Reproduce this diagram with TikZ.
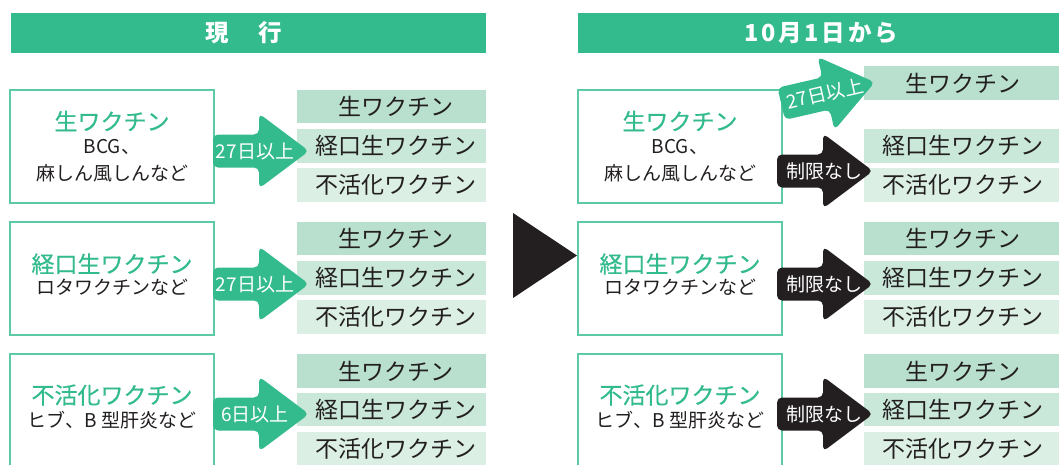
\documentclass[tikz,border=0pt]{standalone}
\usepackage{fontspec}
\setmainfont{Noto Sans CJK JP}
\newfontfamily\hdfont[LetterSpace=12]{Noto Sans CJK JP}
\newfontfamily\ttlfont[FakeBold=0.5]{Noto Sans CJK JP}
\definecolor{hgreen}{HTML}{33BB8E}
\definecolor{bordc}{HTML}{5DCAA5}
\definecolor{rowa}{HTML}{B9E0CE}
\definecolor{rowb}{HTML}{C9E8D9}
\definecolor{rowc}{HTML}{DBEFE4}
\definecolor{dark}{HTML}{231F20}
\tikzset{
  hdrtext/.style={text=white, font=\hdfont\bfseries\fontsize{23.5}{27}\selectfont, inner sep=0pt},
  vbox/.style={draw=bordc, line width=1.5pt},
  ttl/.style={text=hgreen, font=\ttlfont\fontsize{23}{27}\selectfont, inner sep=0pt},
  subt/.style={text=dark, font=\fontsize{19}{23}\selectfont, inner sep=0pt},
  item/.style={text=dark, font=\fontsize{23}{27}\selectfont, inner sep=0pt},
  albl/.style={text=white, font=\fontsize{19}{23}\selectfont, inner sep=0pt},
}
\newcommand\vacarrow[7]{%
  \begin{scope}[shift={(#2,#3)},rotate=#4]
    \fill[#5, rounded corners=5pt] (-48,-16.5) -- (-2,-16.5) -- (-2,-37.5) -- (48,0) -- (-2,37.5) -- (-2,16.5) -- (-48,16.5) -- cycle;
    \node[albl, rotate=#4] (#1) at (#7,0) {#6};
  \end{scope}}
\begin{document}
\begin{tikzpicture}[x=1pt,y=-1pt]
\useasboundingbox (0,0) rectangle (1059,464);
\clip (0,0) rectangle (1059,464);
% headers
\fill[hgreen] (11,13) rectangle (486,53);
\node[hdrtext] (hl) at (244,33) {現　行};
\fill[hgreen] (578,13) rectangle (1059,53);
\node[hdrtext] (hr) at (821,33) {10月1日から};
% left boxes
\draw[vbox] (10,90) rectangle (214,203);
\node[ttl] (lt1) at (112,121) {生ワクチン};
\node[subt] (ls1a) at (112,147) {BCG、};
\node[subt] (ls1b) at (112,173) {麻しん風しんなど};
\draw[vbox] (10,222) rectangle (214,335);
\node[ttl] (lt2) at (112,264) {経口生ワクチン};
\node[subt] (ls2) at (112,287) {ロタワクチンなど};
\draw[vbox] (10,354) rectangle (214,490);
\node[ttl] (lt3) at (112,395) {不活化ワクチン};
\node[subt] (ls3) at (112,420) {ヒブ、B 型肝炎など};
% right boxes
\draw[vbox] (578,90) rectangle (782,203);
\node[ttl] (rt1) at (680,121) {生ワクチン};
\node[subt] (rs1a) at (680,147) {BCG、};
\node[subt] (rs1b) at (680,173) {麻しん風しんなど};
\draw[vbox] (578,222) rectangle (782,335);
\node[ttl] (rt2) at (680,264) {経口生ワクチン};
\node[subt] (rs2) at (680,287) {ロタワクチンなど};
\draw[vbox] (578,354) rectangle (782,490);
\node[ttl] (rt3) at (680,395) {不活化ワクチン};
\node[subt] (rs3) at (680,420) {ヒブ、B 型肝炎など};
% left rows
\fill[rowa] (297,90) rectangle (486,123);
\node[item] (l1a) at (396,106.5) {生ワクチン};
\fill[rowb] (297,129) rectangle (486,163);
\node[item] (l1b) at (396,146) {経口生ワクチン};
\fill[rowc] (297,168) rectangle (486,202);
\node[item] (l1c) at (396,185) {不活化ワクチン};
\fill[rowa] (297,222) rectangle (486,255);
\node[item] (l2a) at (396,238.5) {生ワクチン};
\fill[rowb] (297,261) rectangle (486,295);
\node[item] (l2b) at (396,278) {経口生ワクチン};
\fill[rowc] (297,300) rectangle (486,334);
\node[item] (l2c) at (396,317) {不活化ワクチン};
\fill[rowa] (297,354) rectangle (486,388);
\node[item] (l3a) at (396,371) {生ワクチン};
\fill[rowb] (297,393) rectangle (486,426);
\node[item] (l3b) at (396,409.5) {経口生ワクチン};
\fill[rowc] (297,432) rectangle (486,466);
\node[item] (l3c) at (396,449) {不活化ワクチン};
% right rows
\fill[rowa] (864,66) rectangle (1059,100);
\node[item] (r1a) at (963,83) {生ワクチン};
\fill[rowb] (864,129) rectangle (1059,163);
\node[item] (r1b) at (963,146) {経口生ワクチン};
\fill[rowc] (864,168) rectangle (1059,202);
\node[item] (r1c) at (963,185) {不活化ワクチン};
\fill[rowa] (864,222) rectangle (1059,255);
\node[item] (r2a) at (963,238.5) {生ワクチン};
\fill[rowb] (864,261) rectangle (1059,295);
\node[item] (r2b) at (963,278) {経口生ワクチン};
\fill[rowc] (864,300) rectangle (1059,334);
\node[item] (r2c) at (963,317) {不活化ワクチン};
\fill[rowa] (864,354) rectangle (1059,388);
\node[item] (r3a) at (963,371) {生ワクチン};
\fill[rowb] (864,393) rectangle (1059,426);
\node[item] (r3b) at (963,409.5) {経口生ワクチン};
\fill[rowc] (864,432) rectangle (1059,466);
\node[item] (r3c) at (963,449) {不活化ワクチン};
% arrows
\vacarrow{la1}{261}{151}{0}{hgreen}{27日以上}{-6}
\vacarrow{la2}{261}{284}{0}{hgreen}{27日以上}{-6}
\vacarrow{la3}{261}{414}{0}{hgreen}{6日以上}{-6}
\vacarrow{ra0}{828}{93}{13}{hgreen}{27日以上}{-3}
\vacarrow{ra1}{825}{171}{0}{dark}{制限なし}{-1}
\vacarrow{ra2}{825}{284}{0}{dark}{制限なし}{-1}
\vacarrow{ra3}{825}{414}{0}{dark}{制限なし}{-1}
% big triangle
\fill[dark] (513,213) -- (577,255.5) -- (513,298) -- cycle;
\end{tikzpicture}
\end{document}
